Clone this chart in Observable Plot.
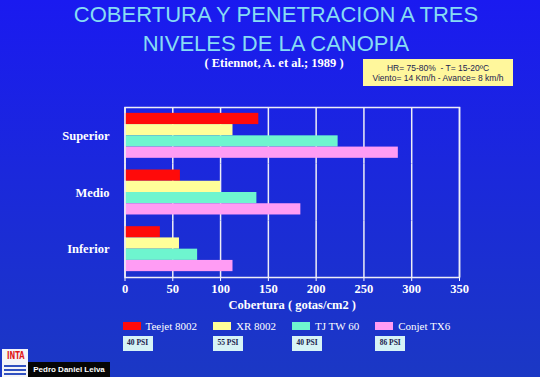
<!DOCTYPE html>
<html>
<head>
<meta charset="utf-8">
<script src="https://cdn.jsdelivr.net/npm/d3@7"></script>
<script src="https://cdn.jsdelivr.net/npm/@observablehq/plot@0.6"></script>
<style>
  html, body { margin: 0; padding: 0; }
  body {
    width: 540px; height: 377px; overflow: hidden; position: relative;
    background: linear-gradient(180deg, #1a1af0 0%, #1b28dc 45%, #1b38c4 100%);
    font-family: "Liberation Serif", serif;
  }
  .abs { position: absolute; }
  .title {
    left: 276px; transform: translateX(-50%); white-space: nowrap;
    font-family: "Liberation Sans", Arial, sans-serif; font-size: 22px; line-height: 22px;
    color: #86dcf4;
  }
  .sub {
    left: 274px; transform: translateX(-50%); white-space: nowrap;
    font-family: "Liberation Serif", serif; font-weight: bold; font-size: 12.5px; line-height: 12.5px;
    color: #ffffff;
  }
  .note {
    left: 363px; top: 59px; width: 150px; height: 27px; background: #fff79c;
    font-family: "Liberation Sans", Arial, sans-serif; font-size: 8.5px; line-height: 10px;
    color: #1c1c50; text-align: center; box-sizing: border-box; padding-top: 4px;
  }
  #chart { left: 0; top: 95px; }
  #legend { left: 122.5px; top: 319px; display: flex; }
  .item { display: flex; flex-direction: column; align-items: flex-start; margin-right: 16px; }
  .row { display: flex; align-items: center; height: 14px; }
  .sw { width: 18px; height: 7.5px; margin-right: 5px; }
  .lab { font-size: 11px; line-height: 14px; color: #fff; white-space: nowrap; }
  .psi {
    margin-top: 3px; height: 14.5px; padding: 0 4.5px; background: #d6f3f6;
    font-size: 7.5px; line-height: 14.5px; font-weight: bold; color: #20204a; white-space: nowrap;
  }
  .logo { left: 2px; top: 349px; width: 26px; height: 28px; background: #f4f4f8; }
  .logo .inta {
    position: absolute; left: 0px; top: 1px; width: 26px; text-align: center;
    font-family: "DejaVu Sans", sans-serif; font-weight: bold; font-size: 11px; line-height: 12px;
    color: #e01818; transform: scaleX(0.62); transform-origin: center;
  }
  .logo .ln { position: absolute; left: 2px; width: 22px; height: 1.5px; background: #3050c0; }
  .author {
    left: 28px; top: 362px; width: 82px; height: 15px; background: #050505;
    font-family: "Liberation Sans", Arial, sans-serif; font-weight: bold; font-size: 8px; line-height: 15px;
    color: #fff; text-align: center;
  }
</style>
</head>
<body>
<div class="abs title" style="top:4.4px">COBERTURA Y PENETRACION A TRES</div>
<div class="abs title" style="top:33.4px">NIVELES DE LA CANOPIA</div>
<div class="abs sub" style="top:56.5px">( Etiennot, A. et al.; 1989 )</div>
<div class="abs note">HR= 75-80%&nbsp; - T= 15-20ºC<br>Viento= 14 Km/h - Avance= 8 km/h</div>
<div id="chart" class="abs"></div>
<div id="legend" class="abs"></div>
<div class="abs logo">
  <div class="inta">INTA</div>
  <div class="ln" style="top:16px"></div>
  <div class="ln" style="top:20px"></div>
  <div class="ln" style="top:24px"></div>
</div>
<div class="abs author">Pedro Daniel Leiva</div>
<script>
// ---- data ----
const levels = ["Superior", "Medio", "Inferior"];
const series = ["Teejet 8002", "XR 8002", "TJ TW 60", "Conjet TX6"];
const pressures = ["40 PSI", "55 PSI", "40 PSI", "86 PSI"];
const colors = ["#ff0a0a", "#ffff99", "#6ef5cf", "#ff9cf4"];
// cobertura (gotas/cm2) per level: Superior, Medio, Inferior
const teejet8002 = [140, 58, 37];
const xr8002 = [113, 100, 57];
const tjtw60 = [223, 138, 76];
const conjetTX6 = [286, 184, 113];
const xTicks = [0, 50, 100, 150, 200, 250, 300, 350];

const seriesValues = [teejet8002, xr8002, tjtw60, conjetTX6];
const table = levels.flatMap((lvl, i) =>
  series.map((s, j) => ({ level: lvl, series: s, value: seriesValues[j][i] }))
);

const gridColor = "#eeeef6";
const chart = Plot.plot({
  width: 540,
  height: 225,
  marginLeft: 124.5,
  marginRight: 81,
  marginTop: 12,
  marginBottom: 43,
  style: {
    background: "transparent",
    color: "#ffffff",
    fontFamily: "'Liberation Serif', serif",
    fontWeight: "bold",
    fontSize: "12.5px",
    overflow: "visible"
  },
  x: {
    domain: [0, 350],
    ticks: xTicks,
    tickSize: 4,
    tickPadding: 3,
    label: "Cobertura ( gotas/cm2 )",
    labelArrow: "none",
    labelAnchor: "center",
    labelOffset: 31
  },
  y: { domain: series, axis: null, paddingInner: 0, paddingOuter: 0.52, round: false },
  fy: { domain: levels, padding: 0, axis: "left", label: null, tickSize: 0, tickPadding: 15.5, round: false },
  color: { domain: series, range: colors },
  marks: [
    Plot.ruleX(xTicks, { stroke: gridColor, strokeWidth: 1.5 }),
    Plot.barX(table, { x: "value", y: "series", fy: "level", fill: "series" }),
    Plot.frame({ stroke: gridColor, strokeWidth: 1.5, facet: "super" })
  ]
});
document.getElementById("chart").appendChild(chart);

// ---- legend (built from the data arrays) ----
const legend = document.getElementById("legend");
series.forEach((s, i) => {
  const item = document.createElement("div");
  item.className = "item";
  item.innerHTML =
    `<div class="row"><div class="sw" style="background:${colors[i]}"></div><span class="lab">${s}</span></div>` +
    `<div class="psi">${pressures[i]}</div>`;
  legend.appendChild(item);
});
</script>
</body>
</html>
